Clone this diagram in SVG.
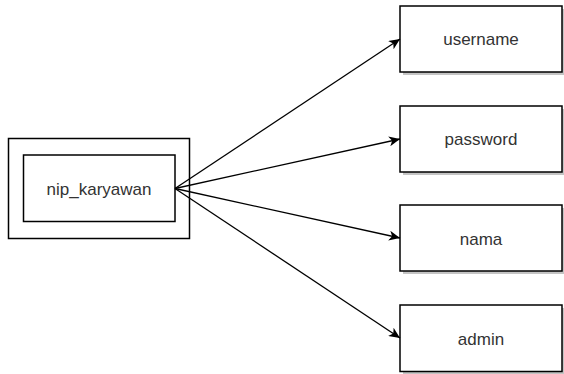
<svg xmlns="http://www.w3.org/2000/svg" width="564" height="374" viewBox="0 0 564 374">
<style>
.box{fill:#fff;stroke:#000;stroke-width:1.5}
.sh{fill:#c4c4c4}
.t{font-family:"Liberation Sans",Arial,sans-serif;font-size:17px;fill:#333;text-anchor:middle}
.c{stroke:#000;stroke-width:1.3;fill:none;marker-end:url(#ah)}
</style>
<defs>
<marker id="ah" markerWidth="12" markerHeight="10" refX="11" refY="5" orient="auto" markerUnits="userSpaceOnUse">
<path d="M0,0 L11,5 L0,10 L3,5 Z" fill="#000"/>
</marker>
</defs>
<rect width="564" height="374" fill="#fff"/>
<g id="nip_karyawan">
<rect class="box" x="8.5" y="138.5" width="181" height="100"/>
<rect class="box" x="23.5" y="155" width="151.5" height="66.5"/>
<text class="t" x="99" y="195">nip_karyawan</text>
</g>
<g id="username">
<rect class="sh" x="403" y="9" width="162" height="66"/>
<rect class="box" x="400" y="6" width="162" height="66"/>
<text class="t" x="481" y="45">username</text>
</g>
<g id="password">
<rect class="sh" x="403" y="109" width="162" height="66"/>
<rect class="box" x="400" y="106" width="162" height="66"/>
<text class="t" x="481" y="145">password</text>
</g>
<g id="nama">
<rect class="sh" x="403" y="208" width="162" height="66"/>
<rect class="box" x="400" y="205" width="162" height="66"/>
<text class="t" x="481" y="244.5">nama</text>
</g>
<g id="admin">
<rect class="sh" x="403" y="308" width="162" height="66"/>
<rect class="box" x="400" y="305" width="162" height="66.5"/>
<text class="t" x="481" y="344.5">admin</text>
</g>
<g id="connectors">
<line class="c" x1="175" y1="188.5" x2="400" y2="39"/>
<line class="c" x1="175" y1="188.5" x2="400" y2="139"/>
<line class="c" x1="175" y1="188.5" x2="400" y2="238"/>
<line class="c" x1="175" y1="188.5" x2="400" y2="338"/>
</g>
</svg>
